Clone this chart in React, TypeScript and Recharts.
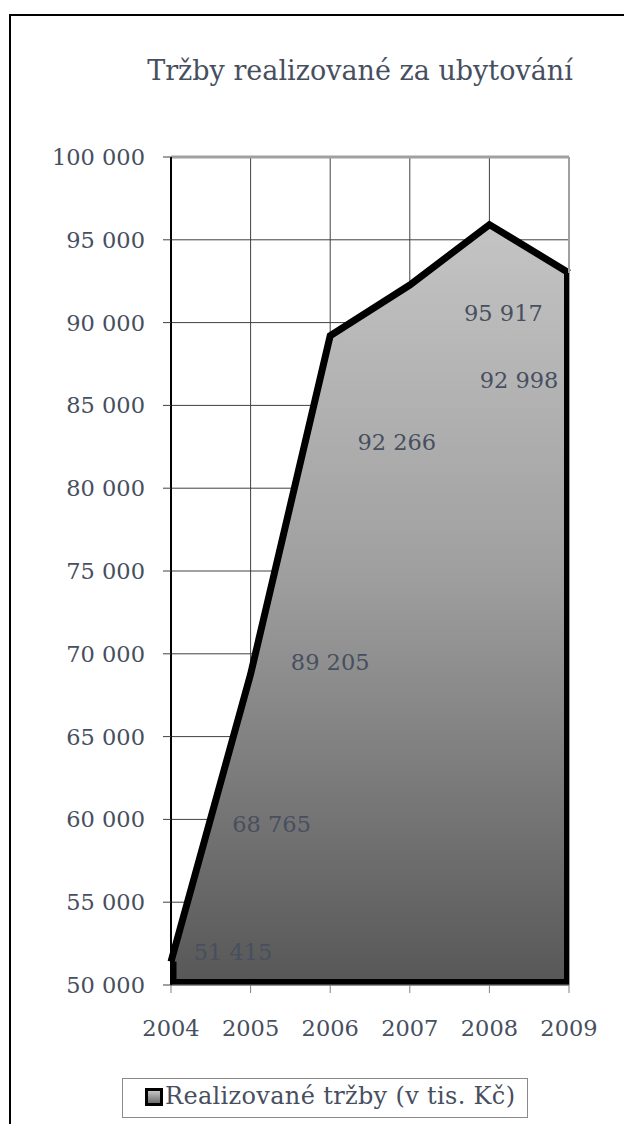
import { AreaChart, Area, XAxis, YAxis, CartesianGrid, ReferenceLine, LabelList } from 'recharts'

const years = ['2004', '2005', '2006', '2007', '2008', '2009']
const revenue = [51415, 68765, 89205, 92266, 95917, 92998]
const yTicks = [50000, 55000, 60000, 65000, 70000, 75000, 80000, 85000, 90000, 95000, 100000]

const TITLE = 'Tržby realizované za ubytování'
const SERIES_NAME = 'Realizované tržby (v tis. Kč)'

// where Excel put each value label, relative to its point
const labelDx = [62, 21, 0, -13, 14, -50]
const labelDy = [-10, 150, 326, 157, 88, 107]

const data = years.map((year, i) => ({ year, value: revenue[i] }))

const FONT = '"DejaVu Serif", serif'
const TEXT = '#474f5f'
const Y_MIN = yTicks[0]
const Y_MAX = yTicks[yTicks.length - 1]

const fmt = (v: number) => String(v).replace(/\B(?=(\d{3})+(?!\d))/g, ' ')

function ValueLabel(props: any) {
  const { x, y, value, index } = props
  return (
    <text
      x={x + labelDx[index]}
      y={y + labelDy[index]}
      textAnchor="middle"
      dominantBaseline="central"
      fontFamily={FONT}
      fontSize={22.5}
      fill={TEXT}
    >
      {fmt(value)}
    </text>
  )
}

export default function App() {
  const first = years[0]
  const last = years[years.length - 1]
  return (
    <div style={{ position: 'relative', width: 624, height: 1116, overflow: 'hidden', background: '#fff' }}>
      <div
        style={{
          position: 'absolute',
          left: 1,
          top: 6,
          width: 700,
          height: 1200,
          borderLeft: '2px solid #000',
          borderTop: '2px solid #000',
        }}
      />
      <div style={{ position: 'absolute', left: 0, top: 0 }}>
        <AreaChart width={624} height={1116} data={data} margin={{ top: 149, right: 63, left: 0, bottom: 79 }}>
          <defs>
            <linearGradient id="areaFill" x1="0" y1="0" x2="0" y2="1">
              <stop offset="0%" stopColor="#c4c4c4" />
              <stop offset="45%" stopColor="#a0a0a0" />
              <stop offset="100%" stopColor="#575757" />
            </linearGradient>
          </defs>
          <CartesianGrid stroke="#404040" strokeWidth={1} />
          <XAxis
            dataKey="year"
            height={60}
            tickSize={8}
            tickMargin={27}
            tickLine={{ stroke: '#808080' }}
            axisLine={{ stroke: '#808080' }}
            tick={{ fontFamily: FONT, fontSize: 22.5, fill: TEXT }}
          />
          <YAxis
            width={163}
            domain={[Y_MIN, Y_MAX]}
            ticks={yTicks}
            interval={0}
            tickSize={8}
            tickMargin={18}
            tickFormatter={fmt}
            tickLine={{ stroke: '#404040' }}
            axisLine={{ stroke: '#000', strokeWidth: 2 }}
            tick={{ fontFamily: FONT, fontSize: 22.5, fill: TEXT }}
          />
          <ReferenceLine y={Y_MAX} stroke="#a0a0a0" strokeWidth={3} />
          <ReferenceLine x={last} stroke="#a0a0a0" strokeWidth={2} />
          <Area
            type="linear"
            dataKey="value"
            baseValue={Y_MIN}
            stroke="#000"
            strokeWidth={7}
            strokeLinejoin="miter"
            fill="url(#areaFill)"
            fillOpacity={1}
            isAnimationActive={false}
          >
            <LabelList dataKey="value" content={ValueLabel} />
          </Area>
          <ReferenceLine
            segment={[{ x: first, y: Y_MIN }, { x: first, y: revenue[0] }]}
            stroke="#000"
            strokeWidth={11}
            ifOverflow="hidden"
          />
          <ReferenceLine
            segment={[{ x: first, y: Y_MIN }, { x: last, y: Y_MIN }]}
            stroke="#000"
            strokeWidth={12}
            ifOverflow="hidden"
          />
          <ReferenceLine
            segment={[{ x: last, y: Y_MIN }, { x: last, y: revenue[revenue.length - 1] }]}
            stroke="#000"
            strokeWidth={10}
            ifOverflow="hidden"
          />
        </AreaChart>
      </div>
      <svg width={624} height={1116} style={{ position: 'absolute', left: 0, top: 0, pointerEvents: 'none' }}>
        <defs>
          <linearGradient id="iconFill" x1="0" y1="0" x2="0" y2="1">
            <stop offset="0%" stopColor="#d0d0d0" />
            <stop offset="100%" stopColor="#606060" />
          </linearGradient>
        </defs>
        <text x={352} y={72} textAnchor="middle" fontFamily={FONT} fontSize={27} fill={TEXT}>
          {TITLE}
        </text>
        <rect x={114.5} y={1070.5} width={405} height={39} fill="#fff" stroke="#8a8a8a" />
        <rect x={138.5} y={1081.5} width={15} height={15} fill="url(#iconFill)" stroke="#000" strokeWidth={3} />
        <text x={157} y={1096} fontFamily={FONT} fontSize={24} textLength={350} lengthAdjust="spacing" fill={TEXT}>
          {SERIES_NAME}
        </text>
      </svg>
    </div>
  )
}
